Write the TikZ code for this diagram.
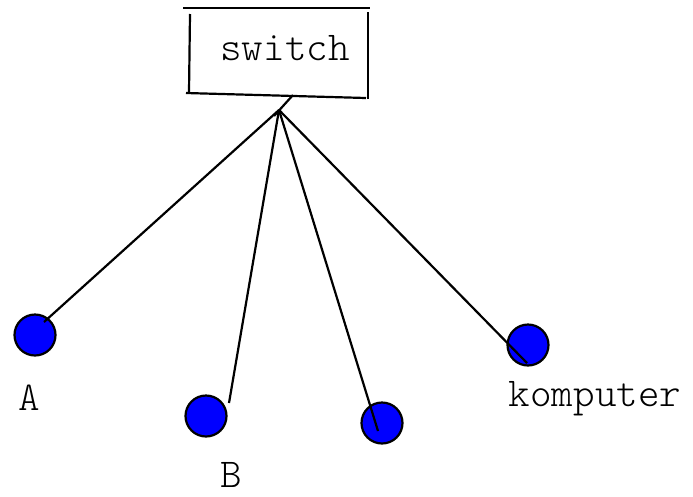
\documentclass[tikz,border=0pt]{standalone}
\usepackage{fontspec}
\setmonofont{lmmonolt10-regular.otf}
\begin{document}
\begin{tikzpicture}[x=1pt,y=-1pt,
  ln/.style={line width=2.2pt,black},
  host/.style={circle,draw=black,line width=2.2pt,fill=blue,minimum size=41pt,inner sep=0pt},
  lbl/.style={font=\ttfamily\fontsize{41}{41}\selectfont,inner sep=0pt}]
\useasboundingbox (0,0) rectangle (693,496);
% hand-sketched switch box
\draw[ln] (183,8) -- (370,8);
\draw[ln] (190,14) -- (189,92);
\draw[ln] (186,93) -- (366,98);
\draw[ln] (368,12) -- (368,99);
\node[lbl] (sw) at (285,48) {switch};
% cable stub leaving the box and the hub point
\coordinate (stub) at (293,95);
\coordinate (j) at (279,110);
\coordinate (stubend) at (274,116);
\draw[ln] (stub) -- (stubend);
% hosts
\node[host] (a) at (35,335) {};
\node[host] (b) at (206,416) {};
\node[host] (c) at (382,423) {};
\node[host] (k) at (528,345) {};
\coordinate (aend) at (44,322);
\coordinate (bend) at (229,403);
\coordinate (cend) at (378,431);
\coordinate (kend) at (527,363);
\draw[ln] (j) -- (aend);
\draw[ln] (j) -- (bend);
\draw[ln] (j) -- (cend);
\draw[ln] (j) -- (kend);
% labels
\node[lbl] (la) at (29,398) {A};
\node[lbl] (lb) at (231,475) {B};
\node[lbl] (lk) at (595,399) {komputer};
\end{tikzpicture}
\end{document}
